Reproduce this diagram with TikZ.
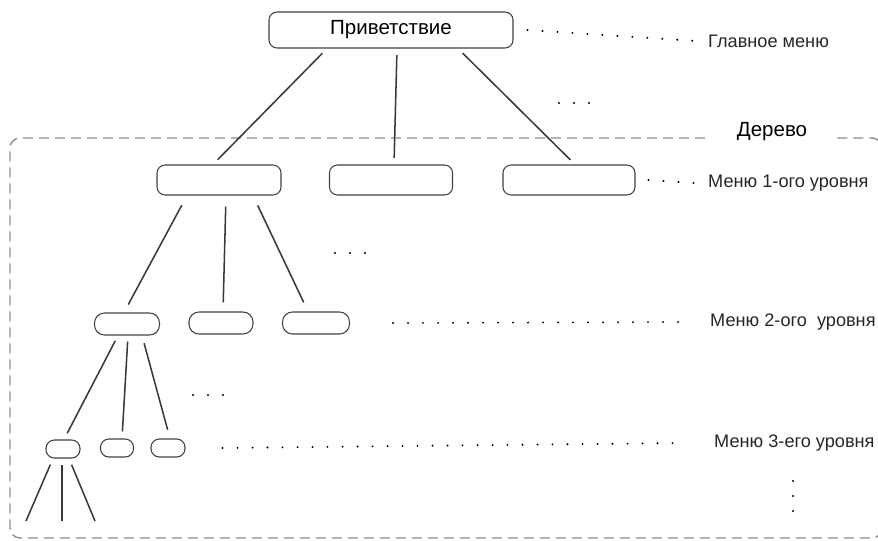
\documentclass[tikz,border=0pt]{standalone}
\usepackage{fontspec}
\setmainfont{Liberation Sans}
\begin{document}
\begin{tikzpicture}[x=0.03cm,y=-0.03cm]
	\tikzstyle{menu} = [draw=black!75, line width=0.9pt, rounded corners=0.24cm, inner sep=0pt]
	\tikzstyle{mainbox} = [menu, minimum width=7.32cm, minimum height=1.08cm, font=\fontsize{17.5}{20}\selectfont]
	\tikzstyle{boxone} = [menu, minimum height=0.9cm]
	\tikzstyle{boxtwo} = [menu, minimum height=0.66cm, rounded corners=0.3cm]
	\tikzstyle{boxthree} = [menu, minimum height=0.54cm, rounded corners=0.25cm]
	\tikzstyle{level} = [anchor=west, inner sep=0pt, text=black!85, font=\fontsize{15.5}{18}\selectfont]
	\tikzstyle{link} = [draw=black!78, line width=1.3pt, shorten <=0.2cm, shorten >=0.2cm]
	\tikzstyle{dots} = [draw=black, line width=1.8pt, line cap=round, dash pattern=on 0pt off 0.45cm]
	\tikzstyle{frame} = [draw=black!45, line width=1.2pt, dash pattern=on 0.3cm off 0.18cm, rounded corners=0.3cm]

	\useasboundingbox (0,0) rectangle (878,541);

	% frame of the tree
	\draw[frame] (705,138) -- (10,138) -- (10,538) -- (882,538) -- (882,138) -- (835,138);
	\node[level, anchor=center, text=black, font=\fontsize{17.5}{20}\selectfont] (tree) at (772,132) {Дерево};

	% nodes
	\node[mainbox] (root) at (391,30) {Приветствие};
	\node[boxone, minimum width=3.72cm] (OneA) at (219,180) {};
	\node[boxone, minimum width=3.69cm] (OneB) at (391,180) {};
	\node[boxone, minimum width=3.96cm] (OneC) at (569,180) {};
	\node[boxtwo, minimum width=1.95cm] (TwoA) at (127,324) {};
	\node[boxtwo, minimum width=1.92cm] (TwoB) at (221,323) {};
	\node[boxtwo, minimum width=2.01cm] (TwoC) at (316,323) {};
	\node[boxthree, minimum width=1.02cm] (ThreeA) at (63,449) {};
	\node[boxthree, minimum width=0.99cm] (ThreeB) at (117,448) {};
	\node[boxthree, minimum width=1.02cm] (ThreeC) at (168,448) {};
	\coordinate (LeafA) at (26,521);
	\coordinate (LeafB) at (62,521);
	\coordinate (LeafC) at (95,521);

	% labels
	\node[level] (LabelMain) at (708,41) {Главное меню};
	\node[level] (LabelOne) at (708,183) {Меню 1-ого уровня};
	\node[level] (LabelTwo) at (710,322) {Меню 2-ого \ уровня};
	\node[level] (LabelThree) at (714,443) {Меню 3-его уровня};

	% links
	\draw[link] ([xshift=-1.92cm]root.south) -- ([xshift=-0.18cm]OneA.north);
	\draw[link] ([xshift=0.18cm]root.south) -- ([xshift=0.09cm]OneB.north);
	\draw[link] ([xshift=2.01cm]root.south) -- ([xshift=0.18cm]OneC.north);
	\draw[link, shorten <=0.33cm, shorten >=0.27cm] ([xshift=-0.96cm]OneA.south) -- ([xshift=-0.09cm]TwoA.north);
	\draw[link, shorten <=0.33cm, shorten >=0.27cm] ([xshift=0.21cm]OneA.south) -- ([xshift=0.06cm]TwoB.north);
	\draw[link, shorten <=0.33cm, shorten >=0.3cm] ([xshift=1.02cm]OneA.south) -- ([xshift=-0.24cm]TwoC.north);
	\draw[link, shorten <=0.18cm, shorten >=0.21cm] ([xshift=-0.27cm]TwoA.south) -- ([xshift=0.03cm]ThreeA.north);
	\draw[link, shorten <=0.18cm, shorten >=0.21cm] ([xshift=0.03cm]TwoA.south) -- ([xshift=0.15cm]ThreeB.north);
	\draw[link, shorten <=0.24cm, shorten >=0.27cm] ([xshift=0.45cm]TwoA.south) -- ([xshift=0.06cm]ThreeC.north);
	\draw[link, shorten >=0cm] ([xshift=-0.3cm]ThreeA.south) -- (LeafA);
	\draw[link, shorten >=0cm] ([xshift=-0.03cm]ThreeA.south) -- (LeafB);
	\draw[link, shorten >=0cm] ([xshift=0.18cm]ThreeA.south) -- (LeafC);

	% dotted leaders
	\draw[dots] ([xshift=0.42cm]root.east) -- ([xshift=-0.36cm]LabelMain.west);
	\draw[dots] ([xshift=0.39cm]OneC.east) -- ([xshift=-0.42cm]LabelOne.west);
	\draw[dots] ([xshift=1.29cm]TwoC.east) -- ([xshift=-0.78cm]LabelTwo.west);
	\draw[dots] ([xshift=1.11cm]ThreeC.east) -- ([xshift=-0.99cm]LabelThree.west);

	% more of the same
	\draw[dots] (559,103) -- (590,103);
	\draw[dots] (335,253) -- (366,253);
	\draw[dots] (193,395) -- (224,395);
	\draw[dots] (793,481) -- (793,512);
\end{tikzpicture}
\end{document}
